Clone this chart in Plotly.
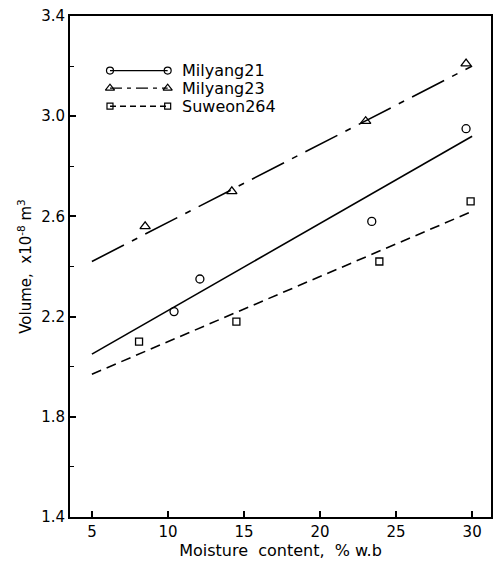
import plotly.graph_objects as go

# Measured kernel volume (x10^-8 m^3) against moisture content (% w.b.)
m21_x = [10.4, 12.1, 23.4, 29.6]
m21_y = [2.22, 2.35, 2.58, 2.95]
m23_x = [8.5, 14.2, 23.0, 29.6]
m23_y = [2.56, 2.70, 2.98, 3.21]
s264_x = [8.1, 14.5, 23.9, 29.9]
s264_y = [2.10, 2.18, 2.42, 2.66]

# Fitted regression lines evaluated at both ends of the range
fit_x = [5, 30]
m21_fit = [2.05, 2.92]
m23_fit = [2.42, 3.20]
s264_fit = [1.97, 2.62]

x_ticks = [5, 10, 15, 20, 25, 30]
y_ticks = [1.4, 1.8, 2.2, 2.6, 3.0, 3.4]
y_tick_text = ["1.4", "1.8", "2.2", "2.6", "3.0", "3.4"]

# name, x, y, fit, symbol, size, plot dash, key dash
series = [
    ("Milyang21", m21_x, m21_y, m21_fit, "circle-open", 8, "solid", "solid"),
    ("Milyang23", m23_x, m23_y, m23_fit, "triangle-up-open", 9,
     "36px,9px,6px,9px", "12px,5px,4px,5px"),
    ("Suweon264", s264_x, s264_y, s264_fit, "square-open", 7, "10px,6px", "6px,4px"),
]

FONT = "DejaVu Sans"
fig = go.Figure()

for name, xs, ys, fit, sym, size, dash, _ in series:
    fig.add_trace(go.Scatter(
        x=fit_x, y=fit, mode="lines",
        line=dict(color="black", width=1.6, dash=dash),
        showlegend=False, hoverinfo="skip",
    ))
    fig.add_trace(go.Scatter(
        x=xs, y=ys, mode="markers", name=name,
        marker=dict(symbol=sym, size=size, color="black",
                    line=dict(width=1.3, color="black")),
        showlegend=False,
    ))

# Key drawn on an overlay axis so each sample has a marker at both ends
key_rows = [0.891, 0.856, 0.820]
for (name, xs, ys, fit, sym, size, dash, kdash), ky in zip(series, key_rows):
    fig.add_trace(go.Scatter(
        x=[0.095, 0.232], y=[ky, ky], mode="lines+markers",
        line=dict(color="black", width=1.4, dash=kdash),
        marker=dict(symbol=sym, size=size - 1, color="black",
                    line=dict(width=1.2, color="black")),
        xaxis="x2", yaxis="y2", showlegend=False, hoverinfo="skip",
    ))
    fig.add_annotation(
        x=0.262, y=ky, xref="x2", yref="y2", text=name, showarrow=False,
        xanchor="left", yanchor="middle",
        font=dict(family=FONT, size=16, color="black"),
    )

fig.update_layout(
    width=495, height=562,
    margin=dict(l=70, r=2, t=16, b=45),
    paper_bgcolor="white", plot_bgcolor="white",
    font=dict(family=FONT, size=15, color="black"),
    xaxis=dict(
        range=[3.56, 31.24], tickvals=x_ticks, ticks="inside", ticklen=6,
        tickwidth=1.5, tickcolor="black", showgrid=False, zeroline=False,
        showline=True, linewidth=2, linecolor="black", mirror=True,
        tickfont=dict(family=FONT, size=15),
        title=dict(text="Moisture  content,  % w.b", standoff=2,
                   font=dict(family=FONT, size=16)),
    ),
    yaxis=dict(
        range=[1.4, 3.4], tickvals=y_ticks, ticktext=y_tick_text,
        ticks="inside", ticklen=6, tickwidth=1.5, tickcolor="black",
        minor=dict(dtick=0.2, tick0=1.4, ticks="inside", ticklen=4,
                   tickwidth=1.2, tickcolor="black"),
        showgrid=False, zeroline=False,
        showline=True, linewidth=2, linecolor="black", mirror=True,
        tickfont=dict(family=FONT, size=15),
        title=dict(text="Volume,  x10<sup>-8</sup> m<sup>3</sup>", standoff=6,
                   font=dict(family=FONT, size=15)),
    ),
    xaxis2=dict(range=[0, 1], overlaying="x", visible=False, fixedrange=True),
    yaxis2=dict(range=[0, 1], overlaying="y", visible=False, fixedrange=True),
    showlegend=False,
)

fig.write_html("out.html")
